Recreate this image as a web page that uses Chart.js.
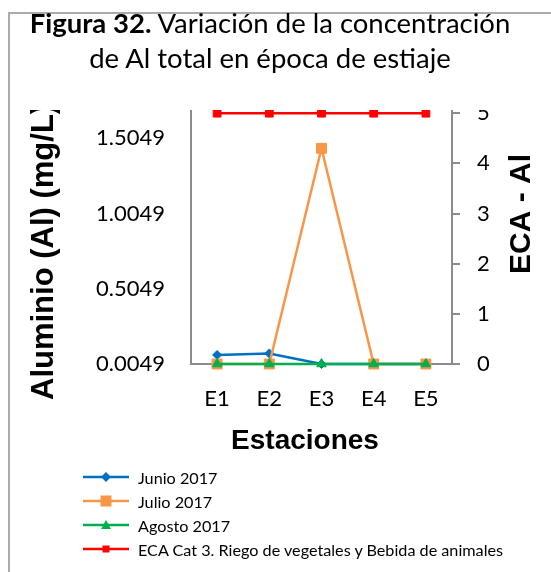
<!DOCTYPE html>
<html>
<head>
<meta charset="utf-8">
<title>Figura 32</title>
<script src="https://cdn.jsdelivr.net/npm/chart.js@4.4.0/dist/chart.umd.min.js"></script>
<style>
  html, body { margin: 0; padding: 0; background: #fff; }
  body { width: 551px; height: 572px; position: relative; overflow: hidden; font-family: Lato, sans-serif; }
  #chart { position: absolute; left: 0; top: 0; }
  #frame { position: absolute; left: 8px; top: 12px; width: 600px; height: 600px;
           border-left: 2px solid #ababab; border-top: 2px solid #ababab; }
  #cover { position: absolute; left: 10px; top: 14px; width: 541px; height: 96px; background: #fff; }
  #title { position: absolute; left: 0; top: 5px; width: 540px; text-align: center;
           font-size: 27.5px; line-height: 35px; color: #000; white-space: nowrap; }
  #legend { position: absolute; left: 83px; top: 465px; font-size: 16.2px; color: #000; }
  .item { height: 24px; display: flex; align-items: center; }
  .item canvas { margin-right: 9px; }
</style>
</head>
<body>
<canvas id="chart" width="551" height="572"></canvas>
<div id="frame"></div>
<div id="cover"></div>
<div id="title"><b>Figura 32.</b> Variación de la concentración<br>de Al total en época de estiaje</div>
<div id="legend"></div>
<script>
// data
var categories = ["E1", "E2", "E3", "E4", "E5"];
var junio  = [0.065, 0.075, 0.0049, 0.0049, 0.0049];
var julio  = [0.0049, 0.0049, 1.438, 0.0049, 0.0049];
var agosto = [0.0049, 0.0049, 0.0049, 0.0049, 0.0049];
var eca    = [5, 5, 5, 5, 5];
var leftTicks  = [0.0049, 0.5049, 1.0049, 1.5049, 2.0049];
var rightTicks = [0, 1, 2, 3, 4, 5, 6];

var seriesNames = ["Junio 2017", "Julio 2017", "Agosto 2017", "ECA Cat 3. Riego de vegetales y Bebida de animales"];
var colors = ["#0070C0", "#F79646", "#00B050", "#FF0000"];

var yTitle = "Aluminio (Al) (mg/L)";
var y2Title = "ECA - Al";
var xTitle = "Estaciones";

var tickFont = { family: "Lato", size: 22 };
var axisGray = "#8c8c8c";

// axis titles drawn by hand so they can sit where the original has them
var axisTitles = {
    id: 'axisTitles',
    afterDraw: function (chart) {
        var ctx = chart.ctx;
        ctx.save();
        ctx.fillStyle = '#000';
        ctx.textBaseline = 'alphabetic';

        ctx.font = 'bold 31px "Liberation Sans", Arial, sans-serif';
        ctx.save();
        ctx.translate(53, 400);
        ctx.rotate(-Math.PI / 2);
        ctx.textAlign = 'left';
        ctx.fillText(yTitle, 0, 0);
        ctx.restore();

        ctx.font = 'bold 30px "Liberation Sans", Arial, sans-serif';
        ctx.save();
        ctx.translate(530, 214);
        ctx.rotate(-Math.PI / 2);
        ctx.textAlign = 'center';
        ctx.fillText(y2Title, 0, 0);
        ctx.restore();

        ctx.font = 'bold 28px "Liberation Sans", Arial, sans-serif';
        ctx.textAlign = 'center';
        ctx.fillText(xTitle, 305, 449);
        ctx.restore();
    }
};

function ds(i, values, axis, style, radius, order) {
    return {
        label: seriesNames[i],
        data: values,
        yAxisID: axis,
        borderColor: colors[i],
        backgroundColor: colors[i],
        borderWidth: 2.5,
        pointStyle: style,
        pointRadius: radius,
        pointBorderWidth: 1,
        pointBackgroundColor: colors[i],
        pointBorderColor: colors[i],
        tension: 0,
        clip: false,
        order: order
    };
}

var ctx = document.getElementById('chart').getContext('2d');
var chart = new Chart(ctx, {
    type: 'line',
    data: {
        labels: categories,
        datasets: [
            ds(0, junio, 'y', 'rectRot', 4.5, 4),
            ds(1, julio, 'y', 'rect', 7, 3),
            ds(2, agosto, 'y', 'triangle', 5.5, 2),
            ds(3, eca, 'y2', 'rect', 5.5, 1)
        ]
    },
    options: {
        responsive: false,
        animation: false,
        layout: { padding: { left: 0, right: 0, top: 63, bottom: 158 } },
        plugins: {
            legend: { display: false },
            title: { display: false },
            tooltip: { enabled: false }
        },
        scales: {
            x: {
                offset: true,
                grid: { display: false, drawTicks: false },
                border: { display: true, color: axisGray, width: 2 },
                ticks: { font: tickFont, color: '#000', padding: 22, maxRotation: 0 },
                afterFit: function (s) { s.height = 50; }
            },
            y: {
                position: 'left',
                min: leftTicks[0],
                max: leftTicks[leftTicks.length - 1],
                grid: { display: false, drawTicks: false },
                border: { display: true, color: axisGray, width: 2 },
                ticks: {
                    font: tickFont, color: '#000', padding: 26,
                    callback: function (v) { return Number(v).toFixed(4); }
                },
                afterBuildTicks: function (s) { s.ticks = leftTicks.map(function (v) { return { value: v }; }); },
                afterFit: function (s) { s.width = 191; }
            },
            y2: {
                position: 'right',
                min: rightTicks[0],
                max: rightTicks[rightTicks.length - 1],
                grid: { display: true, drawOnChartArea: false, drawTicks: true, tickLength: 8, color: axisGray, lineWidth: 2 },
                border: { display: true, color: axisGray, width: 2 },
                ticks: { font: tickFont, color: '#000', padding: 17 },
                afterBuildTicks: function (s) { s.ticks = rightTicks.map(function (v) { return { value: v }; }); },
                afterFit: function (s) { s.width = 99; }
            }
        }
    },
    plugins: [axisTitles]
});

// legend as a plain list under the chart
var shapes = ['diamond', 'bigsquare', 'triangle', 'square'];
var legend = document.getElementById('legend');
seriesNames.forEach(function (name, i) {
    var row = document.createElement('div');
    row.className = 'item';
    var c = document.createElement('canvas');
    c.width = 46; c.height = 16;
    var g = c.getContext('2d');
    g.strokeStyle = colors[i];
    g.fillStyle = colors[i];
    g.lineWidth = 2.5;
    g.beginPath(); g.moveTo(0, 8); g.lineTo(46, 8); g.stroke();
    g.beginPath();
    if (shapes[i] === 'diamond') {
        g.moveTo(23, 3); g.lineTo(28, 8); g.lineTo(23, 13); g.lineTo(18, 8);
    } else if (shapes[i] === 'bigsquare') {
        g.rect(17.5, 2.5, 11, 11);
    } else if (shapes[i] === 'triangle') {
        g.moveTo(23, 3); g.lineTo(28, 12); g.lineTo(18, 12);
    } else {
        g.rect(19.5, 4.5, 7, 7);
    }
    g.closePath();
    g.fill();
    row.appendChild(c);
    var t = document.createElement('span');
    t.textContent = name;
    row.appendChild(t);
    legend.appendChild(row);
});
</script>
</body>
</html>
